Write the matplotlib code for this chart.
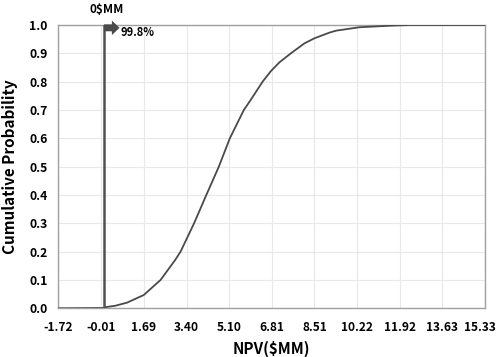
import matplotlib
matplotlib.use('Agg')
import matplotlib.pyplot as plt
import numpy as np

plt.rcParams['font.family'] = ['Noto Sans CJK KR', 'DejaVu Sans']

# cumulative curve
npv = [-1.72, 0.1, 0.15, 0.55, 1.02, 1.69, 2.36, 2.94, 3.16, 3.70, 4.19, 4.69, 5.13, 5.69,
       5.96, 6.44, 6.77, 7.11, 7.57, 8.11, 8.51, 9.11, 9.38, 10.31, 11.65, 12.32, 13.63, 15.33]
prob = [0.0, 0.001, 0.004, 0.009, 0.020, 0.047, 0.10, 0.17, 0.20, 0.30, 0.40, 0.50, 0.60, 0.70,
        0.735, 0.80, 0.837, 0.868, 0.90, 0.935, 0.953, 0.973, 0.980, 0.992, 0.998, 1.0, 1.0, 1.0]
xticks = [-1.72, -0.01, 1.69, 3.40, 5.10, 6.81, 8.51, 10.22, 11.92, 13.63, 15.33]
yticks = [0.0, 0.1, 0.2, 0.3, 0.4, 0.5, 0.6, 0.7, 0.8, 0.9, 1.0]
cutoff = 0.1
cutoff_label = '0$MM'
pct_label = '99.8%'

fig = plt.figure(figsize=(4.97, 3.57), dpi=100)
ax = fig.add_axes([0.1177, 0.1364, 0.8581, 0.7936])

ax.plot(npv, prob, '-', color='#4a4a4a', lw=1.3, zorder=3)
ax.plot([cutoff, cutoff], [0, 1.0], '-', color='#505050', lw=1.8, zorder=4)

# block arrow at top
ax.annotate('', xy=(cutoff + 0.62, 0.99), xytext=(cutoff, 0.99),
            arrowprops=dict(arrowstyle='simple,head_length=0.55,head_width=1.05,tail_width=0.5',
                            color='#4a4a4a', lw=0, shrinkA=0, shrinkB=0),
            zorder=5, annotation_clip=False)
ax.text(cutoff + 0.1, 1.03, cutoff_label, ha='center', va='bottom', fontsize=8.5, fontweight='bold')
ax.text(cutoff + 0.66, 0.975, pct_label, ha='left', va='center', fontsize=8, fontweight='bold')

ax.set_xlim(-1.72, 15.33)
ax.set_ylim(0, 1.0)
ax.set_xticks(xticks)
ax.set_xticklabels(['%.2f' % v for v in xticks], fontsize=8.6, fontweight='bold')
ax.get_xticklabels()[-1].set_horizontalalignment('right')
ax.get_xticklabels()[-1].set_x(15.33)
ax.set_yticks(yticks)
ax.set_yticklabels(['%.1f' % v for v in yticks], fontsize=8.8, fontweight='bold')
ax.tick_params(axis='x', length=0, pad=9)
ax.tick_params(axis='y', length=0, pad=8)
ax.grid(True, color='#e8e8e8', lw=0.8)
ax.set_axisbelow(True)
for s in ax.spines.values():
    s.set_color('#a0a0a0')
    s.set_linewidth(1.0)

ax.set_xlabel('NPV($MM)', fontsize=11, fontweight='bold', labelpad=5)
ax.set_ylabel('Cumulative Probability', fontsize=11, fontweight='bold', labelpad=8)

# keep the last tick label inside the canvas
lbl = ax.get_xticklabels()[-1]
import matplotlib.transforms as mtransforms
lbl.set_transform(lbl.get_transform() + mtransforms.ScaledTranslation(11 / 100, 0, fig.dpi_scale_trans))

fig.savefig('out.png', dpi=100)
